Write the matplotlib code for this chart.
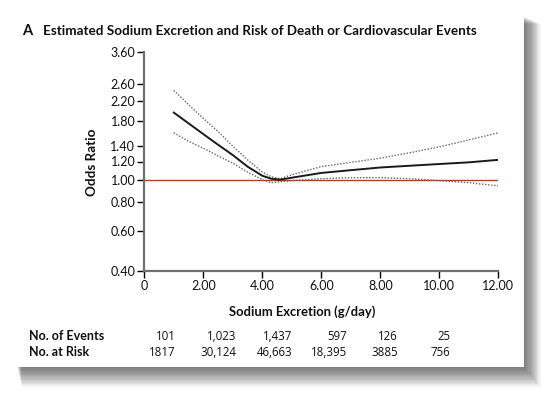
import matplotlib
matplotlib.use("Agg")
import matplotlib.pyplot as plt
from matplotlib.patches import Rectangle
from matplotlib.ticker import FixedLocator, NullLocator

plt.rcParams['font.family'] = ['Lato', 'DejaVu Sans']
num_font = ['Open Sans', 'DejaVu Sans']

# data
sodium = [1.0, 1.5, 2.0, 2.5, 3.0, 3.5, 4.0, 4.3, 4.6, 5.0, 6.0, 7.0, 8.0, 9.0, 10.0, 11.0, 12.0]
odds = [1.96, 1.76, 1.58, 1.42, 1.28, 1.14, 1.04, 1.01, 1.00, 1.02, 1.07, 1.10, 1.13, 1.15, 1.17, 1.19, 1.22]
upper = [2.45, 2.12, 1.85, 1.62, 1.40, 1.22, 1.08, 1.03, 1.01, 1.05, 1.14, 1.19, 1.24, 1.31, 1.39, 1.49, 1.60]
lower = [1.60, 1.47, 1.37, 1.27, 1.18, 1.08, 1.00, 0.97, 0.98, 0.99, 1.01, 1.02, 1.02, 1.01, 0.99, 0.97, 0.94]

yticks = [0.40, 0.60, 0.80, 1.00, 1.20, 1.40, 1.80, 2.20, 2.60, 3.60]
xticks = [0, 2, 4, 6, 8, 10, 12]
xticklabels = ["0", "2.00", "4.00", "6.00", "8.00", "10.00", "12.00"]

events = ["101", "1,023", "1,437", "597", "126", "25"]
at_risk = ["1817", "30,124", "46,663", "18,395", "3885", "756"]
col_right = [176, 236, 292, 347, 398, 450]  # right edge of each column, px

W, H = 555, 398
fig = plt.figure(figsize=(W / 100, H / 100), dpi=100)
fig.patch.set_facecolor("white")


def fx(px):
    return px / W


def fy(py):
    return 1 - py / H


# card with soft shadow (stacked translucent rects)
for k in range(1, 16):
    x0, y0 = 17 + k * 0.3, 16 + k * 0.5
    x1, y1 = 524 + k * 1.1, 367 + k * 1.3
    fig.patches.append(Rectangle((fx(x0), fy(y1)), fx(x1 - x0), (y1 - y0) / H,
                                 transform=fig.transFigure, facecolor="black",
                                 edgecolor="none", alpha=0.045, zorder=0))
fig.patches.append(Rectangle((fx(17), fy(367)), fx(507), 351 / H,
                             transform=fig.transFigure, facecolor="white",
                             edgecolor="none", zorder=1))

ax = fig.add_axes([fx(144.3), fy(271), fx(498.3 - 144.3), (271 - 52) / H])
ax.set_zorder(2)
ax.patch.set_alpha(0)

ax.set_yscale("log")
ax.set_ylim(0.40, 3.60)
ax.set_xlim(0, 12)

ax.axhline(1.0, color="#b5402a", lw=1.0, zorder=1)
ax.plot(sodium, upper, color="#666666", lw=1.0, ls=(0, (1, 1.2)), zorder=2)
ax.plot(sodium, lower, color="#666666", lw=1.0, ls=(0, (1, 1.2)), zorder=2)
ax.plot(sodium, odds, color="#1a1a1a", lw=1.4, zorder=3)

ax.yaxis.set_major_locator(FixedLocator(yticks))
ax.yaxis.set_minor_locator(NullLocator())
ax.set_yticklabels(["%.2f" % v for v in yticks])
ax.set_xticks(xticks)
ax.set_xticklabels(xticklabels)

for s in ["top", "right"]:
    ax.spines[s].set_visible(False)
for s in ["left", "bottom"]:
    ax.spines[s].set_color("#707070")
    ax.spines[s].set_linewidth(1.6)
ax.tick_params(axis="both", direction="out", length=5, width=1.0, color="black",
               labelsize=9, pad=1.5, labelcolor="#111111")

fig.text(fx(22), fy(31), "A", fontsize=10.5, fontweight="bold", va="center", ha="left", color="#111111")
fig.text(fx(43), fy(31), "Estimated Sodium Excretion and Risk of Death or Cardiovascular Events",
         fontsize=9.7, fontweight="bold", va="center", ha="left", color="#111111")
fig.text(fx(91.5), fy(162), "Odds Ratio", fontsize=9.7, fontweight="bold", rotation=90,
         va="center", ha="center", color="#111111")
fig.text(fx(302), fy(311.5), "Sodium Excretion (g/day)", fontsize=9.4, fontweight="bold",
         va="center", ha="center", color="#111111")

row1, row2 = fy(340), fy(356)
fig.text(fx(29), row1, "No. of Events", fontsize=9, fontweight="bold", va="baseline", ha="left", color="#111111")
fig.text(fx(29), row2, "No. at Risk", fontsize=9, fontweight="bold", va="baseline", ha="left", color="#111111")
for r, e, n in zip(col_right, events, at_risk):
    fig.text(fx(r), row1, e, fontsize=8.3, family=num_font, va="baseline", ha="right", color="#111111")
    fig.text(fx(r), row2, n, fontsize=8.3, family=num_font, va="baseline", ha="right", color="#111111")

fig.savefig("out.png", dpi=100)
